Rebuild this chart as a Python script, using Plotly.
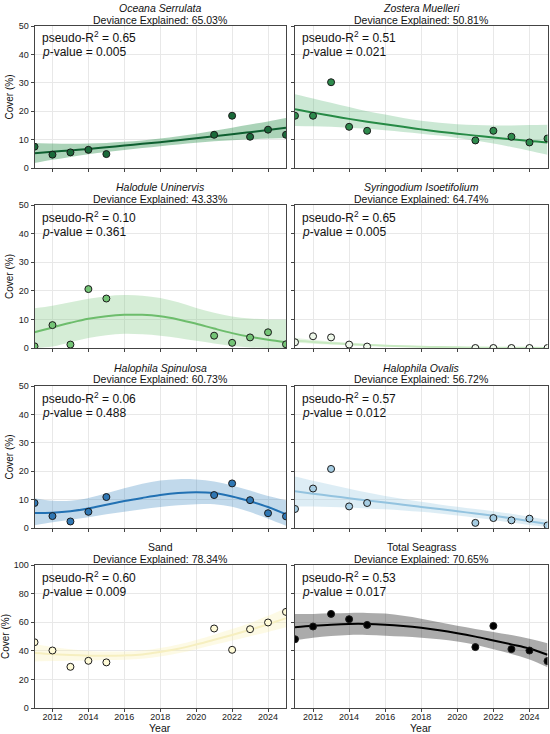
import plotly.graph_objects as go
from plotly.subplots import make_subplots

W, H = 550, 734

# ---------------- data ----------------
obs_years = [2011, 2012, 2013, 2014, 2015, 2021, 2022, 2023, 2024, 2025]
fit_years = list(range(2011, 2026))

titles = ["Oceana Serrulata", "Zostera Muelleri", "Halodule Uninervis", "Syringodium Isoetifolium",
          "Halophila Spinulosa", "Halophila Ovalis", "Sand", "Total Seagrass"]
italic_title = [True, True, True, True, True, True, False, False]
deviance = ["65.03%", "50.81%", "43.33%", "64.74%", "60.73%", "56.72%", "78.34%", "70.65%"]
pseudo_r2 = ["0.65", "0.51", "0.10", "0.65", "0.06", "0.57", "0.60", "0.53"]
p_values = ["0.005", "0.021", "0.361", "0.005", "0.488", "0.012", "0.009", "0.017"]

oceana_obs = [7.5, 4.7, 5.5, 6.4, 4.9, 11.7, 18.4, 11.0, 13.5, 11.7]
oceana_fit = [5.2, 5.7, 6.2, 6.7, 7.3, 7.9, 8.5, 9.1, 9.8, 10.5, 11.2, 11.9, 12.6, 13.4, 14.2]
oceana_lo = [1.8, 2.9, 3.9, 4.8, 5.6, 6.3, 7.0, 7.7, 8.3, 8.9, 9.4, 9.8, 10.1, 10.4, 10.6]
oceana_hi = [8.8, 8.6, 8.5, 8.6, 8.8, 9.2, 9.7, 10.4, 11.2, 12.1, 13.1, 14.2, 15.3, 16.4, 17.6]

zostera_obs = [18.4, 18.4, 30.2, 14.5, 13.1, 9.7, 13.1, 11.0, 9.0, 10.4]
zostera_fit = [20.7, 19.5, 18.4, 17.3, 16.3, 15.4, 14.5, 13.6, 12.8, 12.1, 11.4, 10.7, 10.1, 9.5, 9.0]
zostera_lo = [14.8, 14.7, 14.5, 14.2, 13.8, 13.3, 12.7, 12.1, 11.4, 10.6, 9.7, 8.6, 7.4, 6.1, 4.7]
zostera_hi = [26.0, 24.5, 23.0, 21.5, 20.0, 18.8, 17.6, 16.6, 15.9, 15.4, 15.1, 15.0, 15.0, 15.1, 15.2]

halodule_obs = [0.6, 8.0, 1.2, 20.6, 17.3, 4.3, 1.8, 3.7, 5.5, 1.3]
halodule_fit = [5.5, 7.2, 8.8, 10.2, 11.1, 11.6, 11.6, 11.1, 10.0, 8.5, 6.8, 5.2, 3.9, 2.9, 2.0]
halodule_lo = [0.0, 0.5, 2.0, 3.5, 4.5, 5.0, 4.8, 4.3, 3.5, 2.5, 1.6, 0.7, 0.2, 0.0, 0.0]
halodule_hi = [13.9, 14.8, 16.0, 17.2, 18.1, 18.5, 18.3, 17.5, 16.0, 14.0, 12.3, 11.0, 10.3, 10.0, 10.0]

syring_obs = [2.0, 4.1, 3.7, 1.2, 0.5, 0.0, 0.0, 0.0, 0.0, 0.0]
syring_fit = [2.6, 2.1, 1.7, 1.35, 1.05, 0.8, 0.6, 0.45, 0.33, 0.24, 0.17, 0.12, 0.08, 0.05, 0.03]
syring_lo = [1.8, 1.5, 1.2, 0.95, 0.75, 0.55, 0.4, 0.3, 0.2, 0.14, 0.1, 0.06, 0.04, 0.02, 0.01]
syring_hi = [3.6, 2.9, 2.3, 1.8, 1.4, 1.1, 0.85, 0.65, 0.5, 0.38, 0.28, 0.2, 0.15, 0.1, 0.07]

spinulosa_obs = [8.8, 4.2, 2.3, 5.7, 10.9, 11.6, 15.7, 9.8, 5.2, 4.1]
spinulosa_fit = [5.3, 5.4, 5.9, 6.9, 8.2, 9.5, 10.6, 11.6, 12.3, 12.6, 12.3, 11.1, 9.4, 7.4, 4.8]
spinulosa_lo = [1.0, 2.0, 2.9, 3.8, 4.8, 5.7, 6.6, 7.4, 8.0, 8.4, 8.4, 7.5, 5.6, 3.3, 0.8]
spinulosa_hi = [10.5, 9.6, 9.6, 10.6, 12.2, 14.0, 15.6, 16.7, 17.2, 17.1, 16.4, 15.0, 13.2, 11.3, 9.8]

ovalis_obs = [6.7, 13.9, 20.8, 7.6, 8.8, 1.8, 3.5, 2.7, 3.3, 0.9]
ovalis_fit = [12.9, 12.1, 11.3, 10.5, 9.7, 9.0, 8.2, 7.4, 6.7, 5.9, 5.1, 4.3, 3.4, 2.4, 1.4]
ovalis_lo = [7.6, 7.6, 7.4, 7.2, 6.9, 6.6, 6.2, 5.7, 5.1, 4.4, 3.6, 2.8, 1.9, 1.1, 0.4]
ovalis_hi = [18.1, 16.6, 15.2, 13.8, 12.5, 11.3, 10.2, 9.2, 8.3, 7.5, 6.7, 5.9, 5.0, 4.0, 2.9]

sand_obs = [46.0, 40.2, 28.8, 33.0, 31.9, 55.6, 40.7, 55.1, 59.8, 67.2]
sand_fit = [38.4, 37.6, 37.0, 36.6, 36.5, 36.8, 37.5, 39.2, 41.4, 44.4, 47.7, 51.1, 54.7, 58.6, 62.8]
sand_lo = [32.6, 32.8, 33.0, 33.3, 33.5, 33.8, 34.5, 36.0, 38.2, 41.1, 44.2, 47.2, 50.2, 53.2, 56.5]
sand_hi = [44.7, 42.6, 41.0, 39.9, 39.5, 39.5, 40.2, 41.9, 44.4, 47.6, 51.3, 55.2, 59.5, 64.5, 69.8]

total_obs = [48.1, 57.0, 65.8, 62.1, 58.1, 42.6, 57.4, 41.2, 40.2, 32.8]
total_fit = [56.5, 57.5, 58.3, 58.8, 58.8, 58.3, 57.4, 56.1, 54.4, 52.3, 49.9, 47.2, 44.5, 41.6, 37.2]
total_lo = [47.5, 49.2, 50.4, 51.1, 51.1, 50.6, 50.0, 49.2, 48.0, 46.5, 44.2, 41.0, 37.8, 34.0, 28.5]
total_hi = [65.8, 65.8, 66.2, 66.5, 66.5, 66.0, 64.5, 62.5, 60.0, 57.5, 55.3, 53.2, 51.0, 48.5, 45.3]

x_ticks = [2012, 2014, 2016, 2018, 2020, 2022, 2024]

panels = [
    (oceana_obs, oceana_fit, oceana_lo, oceana_hi),
    (zostera_obs, zostera_fit, zostera_lo, zostera_hi),
    (halodule_obs, halodule_fit, halodule_lo, halodule_hi),
    (syring_obs, syring_fit, syring_lo, syring_hi),
    (spinulosa_obs, spinulosa_fit, spinulosa_lo, spinulosa_hi),
    (ovalis_obs, ovalis_fit, ovalis_lo, ovalis_hi),
    (sand_obs, sand_fit, sand_lo, sand_hi),
    (total_obs, total_fit, total_lo, total_hi),
]

# ---------------- styles ----------------
line_colors = ["#0e5f30", "#268a45", "#6dbd6c", "#c7e9c0", "#2271b3", "#93c3df", "#f6efc0", "#000000"]
band_colors = ["rgba(35,139,69,0.38)", "rgba(49,163,84,0.25)", "rgba(116,196,118,0.30)",
               "rgba(199,233,192,0.45)", "rgba(49,130,189,0.30)", "rgba(158,202,225,0.35)",
               "rgba(250,240,170,0.30)", "rgba(0,0,0,0.33)"]
marker_fill = ["#1a6a3a", "#2e8b4d", "#74c476", "#eef8ea", "#2f77b4", "#a6cde3", "#fffbd8", "#000000"]

FONT = "Arial, Liberation Sans, Helvetica, sans-serif"

fig = make_subplots(rows=4, cols=2)

# pixel-based domains
x_dom = [(34.5, 286.0), (295.0, 547.5)]
y_dom = [(26.0, 168.0), (205.0, 348.0), (386.0, 528.0), (565.0, 708.0)]


def px_x(p):
    return p / W


def px_y(p):
    return 1 - p / H


for i, (obs, fit, lo, hi) in enumerate(panels):
    r, c = i // 2 + 1, i % 2 + 1
    fig.add_trace(go.Scatter(x=fit_years, y=lo, mode="lines", line=dict(width=0, shape="spline"),
                             hoverinfo="skip", showlegend=False), row=r, col=c)
    fig.add_trace(go.Scatter(x=fit_years, y=hi, mode="lines", line=dict(width=0, shape="spline"),
                             fill="tonexty", fillcolor=band_colors[i], hoverinfo="skip",
                             showlegend=False), row=r, col=c)
    fig.add_trace(go.Scatter(x=fit_years, y=fit, mode="lines",
                             line=dict(color=line_colors[i], width=2, shape="spline"),
                             showlegend=False), row=r, col=c)
    fig.add_trace(go.Scatter(x=obs_years, y=obs, mode="markers",
                             marker=dict(size=7, color=marker_fill[i],
                                         line=dict(color="#1a1a1a", width=1)),
                             showlegend=False), row=r, col=c)

    axn = "" if i == 0 else str(i + 1)
    xd = x_dom[c - 1]
    yd = y_dom[r - 1]
    ymax = 100 if r == 4 else 50
    ydtick = 20 if r == 4 else 10
    yax = dict(domain=[px_y(yd[1]), px_y(yd[0])], range=[0, ymax],
               dtick=ydtick, tick0=0, showticklabels=(c == 1),
               ticks="outside", ticklen=3, tickcolor="#444", tickwidth=1,
               showgrid=True, gridcolor="#e8e8e8", gridwidth=0.8,
               showline=True, linecolor="#444", linewidth=1, mirror=True,
               zeroline=False, tickfont=dict(size=9, color="#222"),
               automargin=False)
    if c == 1:
        yax["title"] = dict(text="Cover (%)", standoff=3, font=dict(size=10, color="#111"))
    fig.update_layout(**{
        "xaxis" + axn: dict(domain=[px_x(xd[0]), px_x(xd[1])], range=[2011, 2025],
                            tickvals=x_ticks, showticklabels=(r == 4),
                            ticks="outside", ticklen=3, tickcolor="#444", tickwidth=1,
                            ticklabelstandoff=-3,
                            showgrid=True, gridcolor="#e8e8e8", gridwidth=0.8,
                            showline=True, linecolor="#444", linewidth=1, mirror=True,
                            zeroline=False, tickfont=dict(size=9, color="#222"),
                            automargin=False),
        "yaxis" + axn: yax,
    })

    xc = (xd[0] + xd[1]) / 2
    name = f"<i>{titles[i]}</i>" if italic_title[i] else titles[i]
    fig.add_annotation(x=px_x(xc), y=px_y(yd[0] - 18.5), xref="paper", yref="paper",
                       text=name, showarrow=False, xanchor="center", yanchor="middle",
                       font=dict(size=10.5, color="#111", family=FONT))
    fig.add_annotation(x=px_x(xc), y=px_y(yd[0] - 6.5), xref="paper", yref="paper",
                       text=f"Deviance Explained: {deviance[i]}", showarrow=False,
                       xanchor="center", yanchor="middle",
                       font=dict(size=10.5, color="#111", family=FONT))
    fig.add_annotation(x=px_x(xd[0] + 5), y=px_y(yd[0] + 11.5), xref="paper", yref="paper",
                       text=f"pseudo-R<sup>2</sup> = {pseudo_r2[i]}", showarrow=False,
                       xanchor="left", yanchor="middle",
                       font=dict(size=12, color="#111", family=FONT))
    fig.add_annotation(x=px_x(xd[0] + 5), y=px_y(yd[0] + 26.5), xref="paper", yref="paper",
                       text=f"<i>p</i>-value = {p_values[i]}", showarrow=False,
                       xanchor="left", yanchor="middle",
                       font=dict(size=12, color="#111", family=FONT))
    if r == 4:
        fig.add_annotation(x=px_x(xc), y=px_y(727.5), xref="paper", yref="paper",
                           text="Year", showarrow=False, xanchor="center", yanchor="middle",
                           borderpad=0,
                           font=dict(size=10.5, color="#111", family=FONT))

fig.update_layout(width=W, height=H, margin=dict(l=0, r=0, t=0, b=0),
                  paper_bgcolor="white", plot_bgcolor="white",
                  font=dict(family=FONT, color="#222"), showlegend=False)

fig.write_html("out.html", config={"displayModeBar": False},
               post_script="document.body.style.margin='0';")
